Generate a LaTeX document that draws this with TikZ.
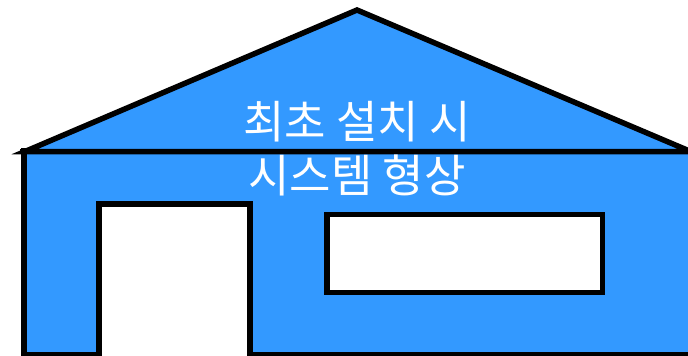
\documentclass[tikz,border=0pt]{standalone}
\usepackage{fontspec}
\newfontfamily\krfont{Noto Sans CJK KR}
\definecolor{wallblue}{HTML}{3399FF}
\begin{document}
\begin{tikzpicture}[x=1pt,y=-1pt,
  outline/.style={draw=black,line width=5.5pt,line join=miter},
  wall/.style={outline,fill=wallblue},
  opening/.style={outline,fill=white},
  caption/.style={text=white,font=\krfont\fontsize{45}{54}\selectfont,align=center}]
  \useasboundingbox (0,0) rectangle (688,356);
  \clip (0,0) rectangle (688,356);
  % house body
  \draw[wall] (24,150.5) rectangle (720,354.5);
  % roof
  \draw[wall] (25,151.5) -- (357,10) -- (706,158) -- (700,151.5) -- cycle;
  \draw[outline] (20,151.5) -- (700,151.5);
  % door and window
  \draw[opening] (99,204) rectangle (250,380);
  \draw[opening] (327,214.5) rectangle (602.5,292.5);
  % title
  \node[caption] (title) at (357,149) {최초 설치 시\\시스템 형상};
\end{tikzpicture}
\end{document}
